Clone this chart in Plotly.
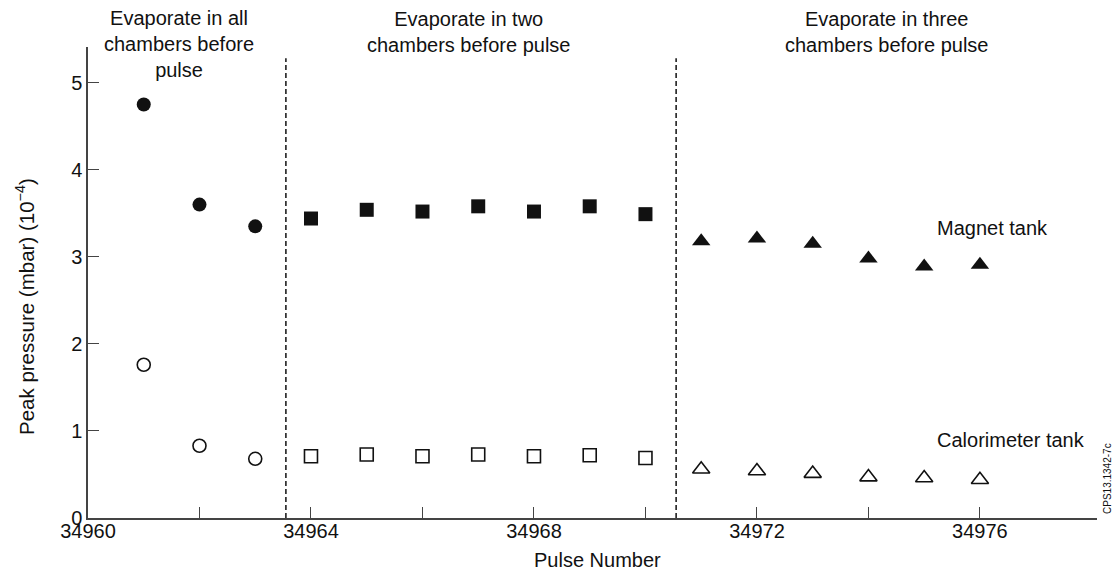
import plotly.graph_objects as go

# ---- data ----
pulse_all = [34961, 34962, 34963]
magnet_all = [4.75, 3.60, 3.35]
calor_all = [1.76, 0.83, 0.68]

pulse_two = [34964, 34965, 34966, 34967, 34968, 34969, 34970]
magnet_two = [3.44, 3.54, 3.52, 3.58, 3.52, 3.58, 3.49]
calor_two = [0.71, 0.73, 0.71, 0.73, 0.71, 0.72, 0.69]

pulse_three = [34971, 34972, 34973, 34974, 34975, 34976]
magnet_three = [3.18, 3.21, 3.15, 2.98, 2.89, 2.91]
calor_three = [0.56, 0.54, 0.51, 0.47, 0.46, 0.44]

phase_bounds = [34963.55, 34970.55]
phase_labels = ["Evaporate in all<br>chambers before<br>pulse",
                "Evaporate in two<br>chambers before pulse",
                "Evaporate in three<br>chambers before pulse"]

x_tickvals = [34960, 34964, 34968, 34972, 34976]
x_minor_tickvals = [34962, 34966, 34970, 34974]
y_tickvals = [0, 1, 2, 3, 4, 5]

FONT = "Liberation Sans, Arial, Helvetica, sans-serif"
INK = "#111111"
FS = 20

fig = go.Figure()

def filled(x, y, symbol, size):
    fig.add_trace(go.Scatter(x=x, y=y, mode="markers", showlegend=False,
                             marker=dict(symbol=symbol, size=size, color=INK,
                                         line=dict(width=0))))

def hollow(x, y, symbol, size):
    fig.add_trace(go.Scatter(x=x, y=y, mode="markers", showlegend=False,
                             marker=dict(symbol=symbol + "-open", size=size, color=INK,
                                         line=dict(width=1.6, color=INK))))

filled(pulse_all, magnet_all, "circle", 14)
hollow(pulse_all, calor_all, "circle", 13)
filled(pulse_two, magnet_two, "square", 14)
hollow(pulse_two, calor_two, "square", 13)
filled(pulse_three, magnet_three, "triangle-up", 16)
hollow(pulse_three, calor_three, "triangle-up", 15)

for xb in phase_bounds:
    fig.add_shape(type="line", xref="x", yref="y", x0=xb, x1=xb, y0=0, y1=5.28,
                  line=dict(color=INK, width=1.5, dash="5px,3px"))

ann_font = dict(family=FONT, size=FS, color=INK)
phase_pos = [(0.0902, 1.0074), (0.3776, 1.0329), (0.791, 1.0329)]
for (px, py), txt in zip(phase_pos, phase_labels):
    fig.add_annotation(x=px, y=py, xref="paper", yref="paper", text=txt,
                       showarrow=False, font=ann_font, align="center",
                       xanchor="center", yanchor="middle")

fig.add_annotation(x=34975.2, y=3.33, xref="x", yref="y", xanchor="left",
                   yanchor="middle", text="Magnet tank", showarrow=False, font=ann_font)
fig.add_annotation(x=34975.2, y=0.90, xref="x", yref="y", xanchor="left",
                   yanchor="middle", text="Calorimeter tank", showarrow=False, font=ann_font)
fig.add_annotation(x=1.0109, y=0.085, xref="paper", yref="paper",
                   xanchor="center", yanchor="middle",
                   text="CPS13.1342-7c", textangle=-90, showarrow=False,
                   font=dict(family=FONT, size=10, color=INK))

# axis titles
fig.add_annotation(x=-0.0624, y=0.448, xref="paper", yref="paper",
                   xanchor="center", yanchor="middle",
                   text="Peak pressure (mbar) (10<sup>−4</sup>)", textangle=-90,
                   showarrow=False, font=dict(family=FONT, size=20.5, color=INK))
fig.add_annotation(x=0.505, y=-0.0895, xref="paper", yref="paper",
                   xanchor="center", yanchor="middle",
                   text="Pulse Number", showarrow=False, font=ann_font)

axis_common = dict(showgrid=False, zeroline=False, showline=True,
                   linecolor="#444444", linewidth=1.5, ticks="inside",
                   ticklen=11, tickwidth=1.2, tickcolor="#444444",
                   tickfont=dict(family=FONT, size=FS, color=INK))

fig.update_xaxes(range=[34960, 34978.1], tickvals=x_tickvals,
                 ticktext=[str(v) for v in x_tickvals],
                 minor=dict(tickvals=x_minor_tickvals, ticks="inside", ticklen=11,
                            tickwidth=1.2, tickcolor="#444444", showgrid=False),
                 ticklabelstandoff=-6, **axis_common)
fig.update_yaxes(range=[0, 5.41], tickvals=y_tickvals, **axis_common)

# page body adds an 8px offset, so the figure is sized to fit inside it
fig.update_layout(width=1104, height=562, plot_bgcolor="white", paper_bgcolor="white",
                  margin=dict(l=80, r=15, t=39, b=52, autoexpand=False),
                  font=dict(family=FONT, color=INK))

fig.write_html("out.html")
